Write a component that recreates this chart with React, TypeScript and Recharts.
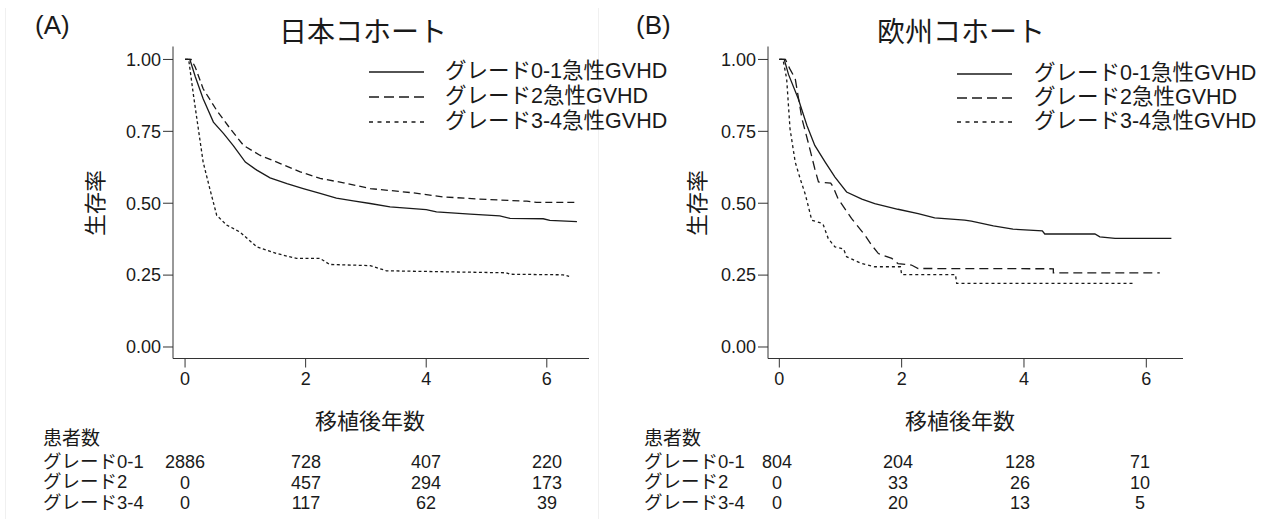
import React from "react";
import { LineChart, Line, XAxis, YAxis } from "recharts";

// survival curves: [years, survival]
const jpGrade01: [number, number][] = [
  [0, 1], [0.08, 1], [0.17, 0.94], [0.3, 0.863], [0.47, 0.782], [0.64, 0.742],
  [0.8, 0.7], [1.0, 0.643], [1.19, 0.615], [1.41, 0.588], [1.69, 0.568],
  [1.96, 0.551], [2.24, 0.534], [2.51, 0.518], [2.79, 0.508], [3.07, 0.499],
  [3.4, 0.487], [4.0, 0.478], [4.17, 0.47], [4.73, 0.462], [5.22, 0.456],
  [5.39, 0.447], [5.94, 0.446], [6.05, 0.44], [6.5, 0.436],
];
const jpGrade2: [number, number][] = [
  [0, 1], [0.1, 1], [0.17, 0.973], [0.3, 0.898], [0.525, 0.823], [0.75, 0.759],
  [0.97, 0.701], [1.24, 0.667], [1.58, 0.638], [1.91, 0.609], [2.24, 0.586],
  [2.63, 0.571], [3.07, 0.551], [3.79, 0.536], [4.28, 0.522], [5.0, 0.513],
  [5.67, 0.507], [5.83, 0.503], [6.52, 0.503],
];
const jpGrade34: [number, number][] = [
  [0, 1], [0.06, 1], [0.14, 0.875], [0.22, 0.759], [0.3, 0.643], [0.41, 0.551],
  [0.525, 0.458], [0.69, 0.424], [0.91, 0.4], [1.19, 0.348], [1.52, 0.325],
  [1.85, 0.308], [2.24, 0.308], [2.4, 0.287], [3.07, 0.283], [3.34, 0.265],
  [5.33, 0.258], [5.39, 0.253], [6.27, 0.251], [6.37, 0.246],
];

const euGrade01: [number, number][] = [
  [0, 1], [0.08, 1], [0.15, 0.948], [0.31, 0.863], [0.45, 0.771], [0.58, 0.701],
  [0.75, 0.643], [0.91, 0.591], [1.1, 0.539], [1.35, 0.514], [1.56, 0.499],
  [1.94, 0.479], [2.27, 0.464], [2.54, 0.449], [3.03, 0.441], [3.14, 0.4375],
  [3.5, 0.421], [3.82, 0.41], [4.3, 0.404], [4.34, 0.393], [5.16, 0.393],
  [5.24, 0.383], [5.49, 0.378], [6.41, 0.378],
];
const euGrade2: [number, number][] = [
  [0, 1], [0.1, 1], [0.17, 0.968], [0.26, 0.933], [0.37, 0.794], [0.47, 0.713],
  [0.58, 0.62], [0.64, 0.574], [0.84, 0.57], [0.88, 0.557], [0.96, 0.516],
  [1.18, 0.447], [1.4, 0.389], [1.51, 0.354], [1.62, 0.325], [1.84, 0.308],
  [1.94, 0.29], [2.16, 0.285], [2.27, 0.273], [4.48, 0.272], [4.48, 0.258],
  [6.22, 0.258],
];
const euGrade34: [number, number][] = [
  [0, 1], [0.06, 1], [0.12, 0.933], [0.175, 0.759], [0.26, 0.643], [0.34, 0.586],
  [0.42, 0.534], [0.47, 0.493], [0.53, 0.441], [0.7, 0.43], [0.72, 0.424],
  [0.8, 0.377], [0.91, 0.348], [1.05, 0.341], [1.1, 0.314], [1.35, 0.29],
  [1.56, 0.279], [1.98, 0.279], [2.0, 0.252], [2.88, 0.252], [2.9, 0.221],
  [5.78, 0.221],
];

const X_TICKS = [0, 2, 4, 6];
const Y_TICKS = [0, 0.25, 0.5, 0.75, 1];
const SERIES_NAMES = ["グレード0-1急性GVHD", "グレード2急性GVHD", "グレード3-4急性GVHD"];
const ROW_LABELS = ["グレード0-1", "グレード2", "グレード3-4"];

const jpAtRisk01 = [2886, 728, 407, 220];
const jpAtRisk2 = [0, 457, 294, 173];
const jpAtRisk34 = [0, 117, 62, 39];
const euAtRisk01 = [804, 204, 128, 71];
const euAtRisk2 = [0, 33, 26, 10];
const euAtRisk34 = [0, 20, 13, 5];

const FONT = '"Liberation Sans", "Noto Sans CJK JP", sans-serif';
const JP_FONT = '"Noto Sans CJK JP", sans-serif';
const INK = "#1a1a1a";
const AXIS = "#333";

const toPts = (arr: [number, number][]) => arr.map(([t, v]) => ({ t, v }));

function Txt({ x, y, size, anchor = "start", font = FONT, children }: any) {
  return (
    <div
      style={{
        position: "absolute",
        left: x,
        top: y - size / 2,
        height: size,
        fontSize: size,
        lineHeight: `${size}px`,
        fontFamily: font,
        color: INK,
        whiteSpace: "nowrap",
        transform: anchor === "middle" ? "translateX(-50%)" : undefined,
      }}
    >
      {children}
    </div>
  );
}

interface PanelProps {
  left: number;
  tag: string;
  tagX: number;
  title: string;
  titleX: number;
  yLabelX: number;
  axisW: number;
  plotW: number;
  xDomain: [number, number];
  curves: [number, number][][];
  dashes: (string | undefined)[];
  legendLineX: number;
  legendTextX: number;
  legendRows: number[];
  xTitleX: number;
  tableX: number;
  cols: number[];
  atRisk: number[][];
}

const LEGEND_DASHES = [undefined, "10 5", "4 4.5"];

function Panel(p: PanelProps) {
  const chartW = 600;
  return (
    <>
      <Txt x={p.tagX} y={25} size={26}>{p.tag}</Txt>
      <Txt x={p.titleX} y={30} size={28} anchor="middle" font={JP_FONT}>{p.title}</Txt>
      <div style={{ position: "absolute", left: p.left, top: 0 }}>
        <LineChart
          width={chartW}
          height={400}
          margin={{ top: 46.5, right: chartW - p.axisW - p.plotW, bottom: 0, left: 0 }}
        >
          <XAxis
            type="number"
            dataKey="t"
            domain={p.xDomain}
            ticks={X_TICKS}
            height={41.5}
            tickSize={9}
            tickMargin={5}
            axisLine={{ stroke: AXIS }}
            tickLine={{ stroke: AXIS }}
            tick={{ fontSize: 18, fill: INK, fontFamily: FONT }}
          />
          <YAxis
            type="number"
            domain={[-0.04, 1.045]}
            ticks={Y_TICKS}
            width={p.axisW}
            tickSize={10}
            tickMargin={2}
            tickFormatter={(v: number) => v.toFixed(2)}
            axisLine={{ stroke: AXIS }}
            tickLine={{ stroke: AXIS }}
            tick={{ fontSize: 18, fill: INK, fontFamily: FONT }}
          />
          {p.curves.map((c, i) => (
            <Line
              key={i}
              data={toPts(c)}
              dataKey="v"
              type="linear"
              stroke={INK}
              strokeWidth={1.3}
              strokeDasharray={p.dashes[i]}
              dot={false}
              activeDot={false}
              isAnimationActive={false}
            />
          ))}
        </LineChart>
      </div>
      <div
        style={{
          position: "absolute",
          left: p.yLabelX - 40,
          top: 203 - 11,
          width: 80,
          height: 22,
          lineHeight: "22px",
          textAlign: "center",
          fontSize: 22,
          fontFamily: JP_FONT,
          color: INK,
          transform: "rotate(-90deg)",
        }}
      >
        生存率
      </div>
      {SERIES_NAMES.map((name, i) => (
        <React.Fragment key={name}>
          <svg
            style={{ position: "absolute", left: p.legendLineX, top: p.legendRows[i] - 3 }}
            width={55}
            height={6}
          >
            <line x1={0} y1={3} x2={55} y2={3} stroke={INK} strokeWidth={1.3} strokeDasharray={LEGEND_DASHES[i]} />
          </svg>
          <Txt x={p.legendTextX} y={p.legendRows[i]} size={21.5}>{name}</Txt>
        </React.Fragment>
      ))}
      <Txt x={p.xTitleX} y={419} size={22} anchor="middle" font={JP_FONT}>移植後年数</Txt>
      <Txt x={p.tableX} y={438} size={19}>患者数</Txt>
      {ROW_LABELS.map((lab, r) => (
        <React.Fragment key={lab}>
          <Txt x={p.tableX} y={462 + r * 20.5} size={18.5}>{lab}</Txt>
          {p.atRisk[r].map((n, c) => (
            <Txt key={c} x={p.cols[c]} y={462 + r * 20.5} size={18} anchor="middle">{n}</Txt>
          ))}
        </React.Fragment>
      ))}
    </>
  );
}

export default function App() {
  return (
    <div
      style={{
        position: "absolute",
        left: 0,
        top: 0,
        width: 1277,
        height: 519,
        background: "#fff",
        overflow: "hidden",
      }}
    >
      <div style={{ position: "absolute", left: 5, top: 8, width: 1, height: 511, background: "#f0f0f0" }} />
      <div style={{ position: "absolute", left: 598, top: 8, width: 1, height: 511, background: "#f0f0f0" }} />
      <Panel
        left={0}
        tag="(A)"
        tagX={35}
        title="日本コホート"
        titleX={363}
        yLabelX={93}
        axisW={173}
        plotW={416}
        xDomain={[-0.2, 6.7]}
        curves={[jpGrade01, jpGrade2, jpGrade34]}
        dashes={[undefined, "7 4", "3 2.5"]}
        legendLineX={369}
        legendTextX={445}
        legendRows={[72, 97, 122]}
        xTitleX={370}
        tableX={43}
        cols={[185, 306, 426, 547]}
        atRisk={[jpAtRisk01, jpAtRisk2, jpAtRisk34]}
      />
      <Panel
        left={600}
        tag="(B)"
        tagX={636}
        title="欧州コホート"
        titleX={961}
        yLabelX={695}
        axisW={168}
        plotW={415}
        xDomain={[-0.185, 6.6]}
        curves={[euGrade01, euGrade2, euGrade34]}
        dashes={[undefined, "9 5", "3 3"]}
        legendLineX={957}
        legendTextX={1034}
        legendRows={[74, 98, 122]}
        xTitleX={960}
        tableX={644}
        cols={[777, 898, 1020, 1140]}
        atRisk={[euAtRisk01, euAtRisk2, euAtRisk34]}
      />
    </div>
  );
}
